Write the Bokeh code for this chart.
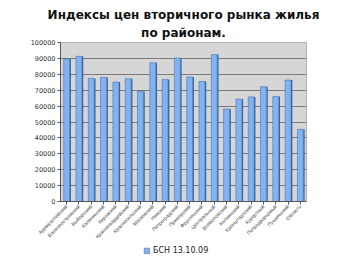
import math
from bokeh.plotting import figure
from bokeh.layouts import column
from bokeh.models import (ColumnDataSource, FactorRange, Range1d, FixedTicker, NumeralTickFormatter,
                          Title, Legend, LegendItem)
from bokeh.transform import dodge
from bokeh.embed import file_html
from bokeh.resources import INLINE

districts = ["Адмиралтейский", "Василеостровский", "Выборгский", "Калининский", "Кировский",
             "Красногвардейский", "Красносельский", "Московский", "Невский", "Петроградский",
             "Приморский", "Фрунзенский", "Центральный", "Всеволожский", "Колпинский",
             "Кронштадтский", "Курортный", "Петродворцовый", "Пушкинский", "Область"]
values = [89700, 91300, 77400, 78000, 75100, 77200, 69200, 87300, 76800, 90300,
          78300, 75500, 92400, 58200, 64400, 65800, 72200, 66000, 76400, 45400]
y_ticks = [0, 10000, 20000, 30000, 40000, 50000, 60000, 70000, 80000, 90000, 100000]
series_name = "БСН 13.10.09"
title_lines = ["Индексы цен вторичного рынка жилья", "по районам."]

src = ColumnDataSource(dict(x=districts, top=values))

W = 338
p = figure(width=W, height=244, x_range=FactorRange(*districts, range_padding=0),
           y_range=Range1d(0, 100000), output_backend="svg", toolbar_location=None,
           min_border_left=60, min_border_right=32, min_border_top=42, min_border_bottom=38)
p.title = None
for t, so in zip(reversed(title_lines), [5, 0]):
    p.add_layout(Title(text=t, align="center", text_font="DejaVu Sans", text_font_size="12px",
                       text_font_style="bold", text_color="#111111", standoff=so), "above")

p.background_fill_color = "#d6d6d6"
p.border_fill_color = "white"
p.outline_line_color = "#b0b0b0"
p.xgrid.grid_line_color = None
p.ygrid.grid_line_color = "#7a7a7a"
p.ygrid.grid_line_width = 1
p.ygrid.ticker = FixedTicker(ticks=y_ticks)

side = p.vbar(x=dodge("x", 0.29, range=p.x_range), top="top", width=0.12, source=src,
              fill_color="#3d64a0", line_color=None)
front = p.vbar(x="x", top="top", width=0.48, source=src, fill_color="#80b3f0",
               line_color="#4a72b0", line_width=0.6)

p.yaxis.ticker = FixedTicker(ticks=y_ticks)
p.yaxis.formatter = NumeralTickFormatter(format="0")
p.yaxis.major_label_text_font = "DejaVu Sans"
p.yaxis.major_label_text_font_size = "6.5px"
p.yaxis.major_label_text_color = "#333333"
p.yaxis.minor_tick_line_color = None
p.yaxis.major_tick_out = 3
p.yaxis.major_tick_in = 0
p.yaxis.axis_line_color = "#555555"
p.yaxis.major_tick_line_color = "#555555"
p.yaxis.major_label_standoff = 2

p.xaxis.major_label_orientation = math.pi / 4
p.xaxis.major_label_text_font = "Liberation Sans"
p.xaxis.major_label_text_font_size = "5px"
p.xaxis.major_label_text_color = "#444444"
p.xaxis.axis_line_color = "#555555"
p.xaxis.major_tick_line_color = "#555555"
p.xaxis.major_tick_out = 3
p.xaxis.major_tick_in = 0
p.xaxis.major_label_standoff = 1

# legend strip below the chart (hidden proxy renderer; legend drawn without inactive overlay)
lg = figure(width=W, height=12, x_range=p.x_range, y_range=Range1d(-2, -1),
            output_backend="svg", toolbar_location=None, x_axis_location=None,
            y_axis_location=None, min_border=0)
lg.outline_line_color = None
lg.grid.grid_line_color = None
lg_r = lg.vbar(x="x", top="top", bottom="top", width=0.48, source=src, fill_color="#80b3f0",
               line_color="#4a72b0", line_width=0.6)
lg_r.visible = False
legend = Legend(items=[LegendItem(label=series_name, renderers=[lg_r])],
                location=(83, 1), orientation="horizontal", background_fill_alpha=0,
                border_line_color=None, label_text_font="DejaVu Sans", label_text_font_size="8px",
                label_text_color="#222222", glyph_width=7, glyph_height=7, padding=0, margin=0,
                label_standoff=3, label_height=9, inactive_fill_alpha=0)
lg.add_layout(legend, "center")

layout = column(p, lg, spacing=0)
open("out.html", "w").write(file_html(layout, INLINE))
